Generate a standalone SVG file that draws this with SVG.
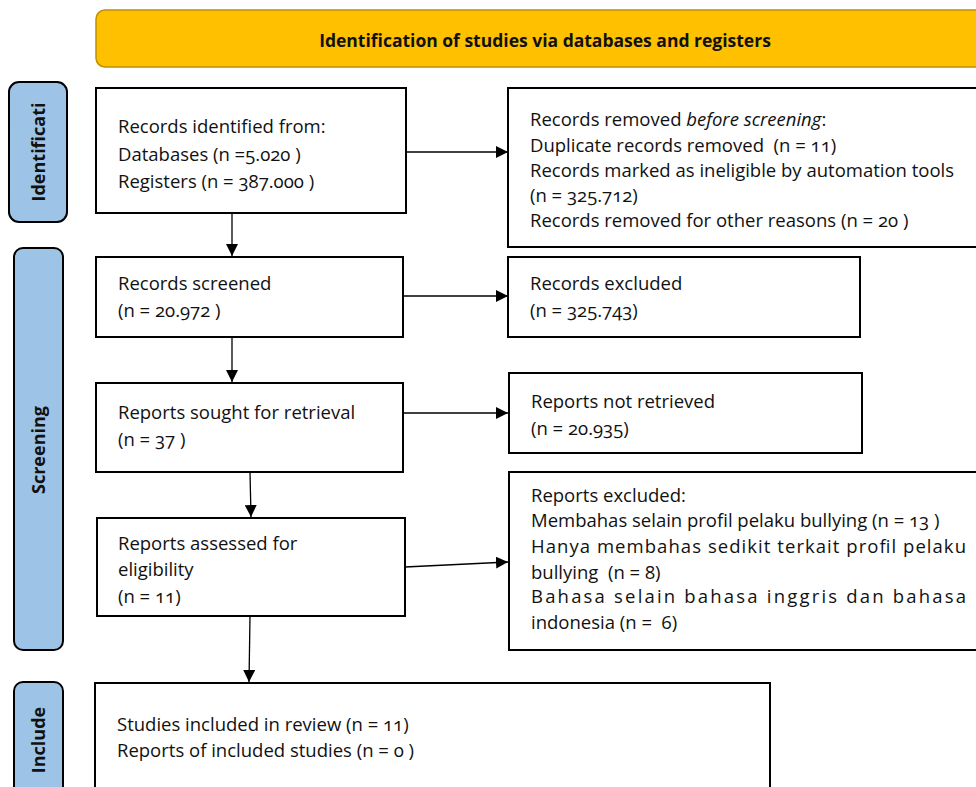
<svg xmlns="http://www.w3.org/2000/svg" width="976" height="787" viewBox="0 0 976 787">
<defs>
<marker id="ah" viewBox="0 0 10 10" refX="10" refY="5" markerWidth="12" markerHeight="12" markerUnits="userSpaceOnUse" orient="auto">
<path d="M0,0 L10,5 L0,10 Z" fill="#000"/>
</marker>
<style>
.box{fill:#fff;stroke:#000;stroke-width:2}
.side{fill:#9DC3E6;stroke:#000;stroke-width:2}
.t{font-family:"Open Sans","Noto Sans","Liberation Sans",sans-serif;font-size:18.5px;fill:#111;font-variant-numeric:oldstyle-nums;white-space:pre}
.lab{font-family:"Open Sans","Noto Sans","Liberation Sans",sans-serif;font-size:18px;font-weight:bold;fill:#111;text-anchor:middle}
.c{stroke:#000;stroke-width:1.3;fill:none;marker-end:url(#ah)}
</style>
</defs>
<rect width="976" height="787" fill="#fff"/>
<g id="header">
<rect x="96" y="10" width="895" height="57" rx="9" fill="#FFC000" stroke="#BF9000" stroke-width="1.5"/>
<text class="lab" x="545" y="47" style="font-size:17.5px">Identification of studies via databases and registers</text>
</g>
<g id="lbl-identification">
<rect class="side" x="9" y="82" width="58" height="140" rx="10"/>
<text class="lab" transform="translate(45,152) rotate(-90)">Identificati</text>
</g>
<g id="lbl-screening">
<rect class="side" x="14" y="248" width="49" height="402" rx="9"/>
<text class="lab" transform="translate(45,450) rotate(-90)">Screening</text>
</g>
<g id="lbl-include">
<rect class="side" x="14" y="682" width="49" height="120" rx="9"/>
<text class="lab" transform="translate(45,740) rotate(-90)">Include</text>
</g>
<g id="n-identified">
<rect class="box" x="96" y="88" width="310" height="125"/>
<text class="t" x="118" y="133">Records identified from:</text>
<text class="t" x="118" y="161">Databases (n =5.020 )</text>
<text class="t" x="118" y="188">Registers (n = 387.000 )</text>
</g>
<g id="n-removed">
<rect class="box" x="508" y="88" width="475" height="159"/>
<text class="t" x="530" y="126">Records removed <tspan font-style="italic">before screening</tspan>:</text>
<text class="t" x="530" y="152">Duplicate records removed  (n = 11)</text>
<text class="t" x="530" y="177">Records marked as ineligible by automation tools</text>
<text class="t" x="530" y="202">(n = 325.712)</text>
<text class="t" x="530" y="227">Records removed for other reasons (n = 20 )</text>
</g>
<g id="n-screened">
<rect class="box" x="96" y="257" width="307" height="80"/>
<text class="t" x="118" y="290">Records screened</text>
<text class="t" x="118" y="317">(n = 20.972 )</text>
</g>
<g id="n-excluded">
<rect class="box" x="508" y="257" width="352" height="80"/>
<text class="t" x="530" y="290">Records excluded</text>
<text class="t" x="530" y="317">(n = 325.743)</text>
</g>
<g id="n-sought">
<rect class="box" x="96" y="383" width="307" height="89"/>
<text class="t" x="118" y="419">Reports sought for retrieval</text>
<text class="t" x="118" y="446">(n = 37 )</text>
</g>
<g id="n-notretrieved">
<rect class="box" x="509" y="373" width="353" height="80"/>
<text class="t" x="531" y="408">Reports not retrieved</text>
<text class="t" x="531" y="435">(n = 20.935)</text>
</g>
<g id="n-assessed">
<rect class="box" x="97" y="518" width="308" height="98"/>
<text class="t" x="118" y="550">Reports assessed for</text>
<text class="t" x="118" y="576">eligibility</text>
<text class="t" x="118" y="603">(n = 11)</text>
</g>
<g id="n-repexcluded">
<rect class="box" x="509" y="472" width="475" height="178"/>
<text class="t" x="531" y="502">Reports excluded:</text>
<text class="t" x="531" y="527">Membahas selain profil pelaku bullying (n = 13 )</text>
<text class="t" x="531" y="553" textLength="435" lengthAdjust="spacing">Hanya membahas sedikit terkait profil pelaku</text>
<text class="t" x="531" y="579">bullying  (n = 8)</text>
<text class="t" x="531" y="603" textLength="435" lengthAdjust="spacing">Bahasa selain bahasa inggris dan bahasa</text>
<text class="t" x="531" y="629">indonesia (n =  6)</text>
</g>
<g id="n-included">
<rect class="box" x="95" y="683" width="675" height="120"/>
<text class="t" x="117" y="731">Studies included in review (n = 11)</text>
<text class="t" x="117" y="757">Reports of included studies (n = 0 )</text>
</g>
<g id="connectors">
<line class="c" x1="406" y1="152" x2="508" y2="152"/>
<line class="c" x1="232" y1="213" x2="232" y2="256"/>
<line class="c" x1="403" y1="296" x2="508" y2="296"/>
<line class="c" x1="232" y1="337" x2="232" y2="382"/>
<line class="c" x1="403" y1="413" x2="508" y2="413"/>
<line class="c" x1="250" y1="472" x2="251" y2="517"/>
<line class="c" x1="405" y1="567" x2="508" y2="562"/>
<line class="c" x1="250" y1="616" x2="249" y2="682"/>
</g>
</svg>
